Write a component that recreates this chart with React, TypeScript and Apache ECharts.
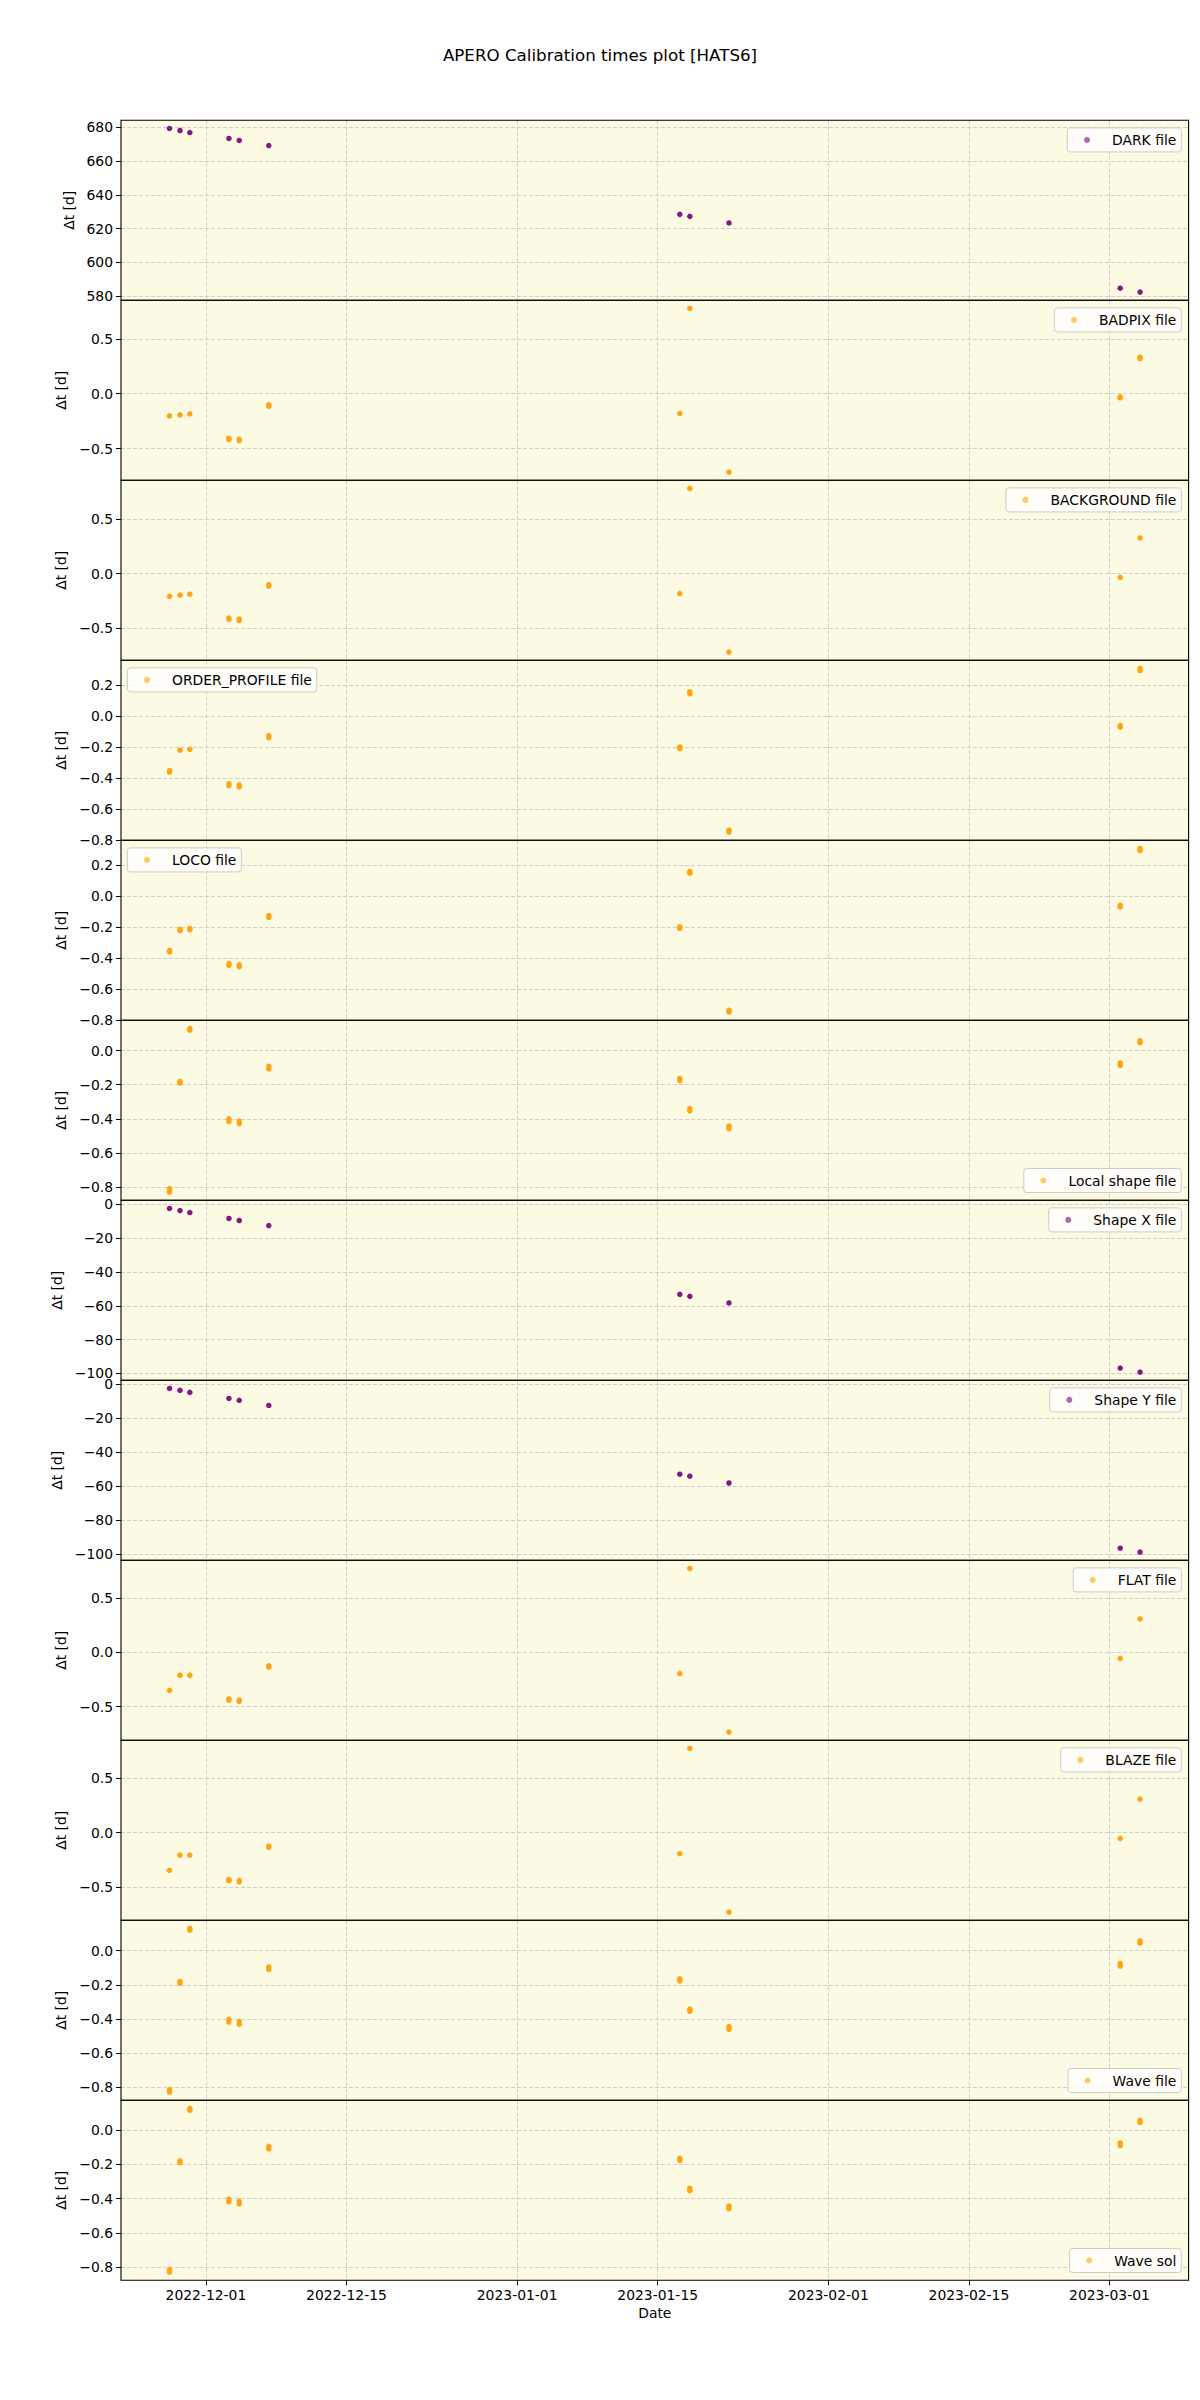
import React, { useEffect, useRef } from "react";
import * as echarts from "echarts";

// ---------------- data ----------------
const TITLE = "APERO Calibration times plot [HATS6]";
const Y_NAME = "Δt [d]";
const X_NAME = "Date";

// observation dates (UTC)
const obsDates = [
  "2022-11-27T09:00:00Z",
  "2022-11-28T10:00:00Z",
  "2022-11-29T09:30:00Z",
  "2022-12-03T07:00:00Z",
  "2022-12-04T07:40:00Z",
  "2022-12-07T06:15:00Z",
  "2023-01-17T04:50:00Z",
  "2023-01-18T04:50:00Z",
  "2023-01-22T02:25:00Z",
  "2023-03-02T01:40:00Z",
  "2023-03-04T01:10:00Z",
];

const xTickDates = [
  "2022-12-01",
  "2022-12-15",
  "2023-01-01",
  "2023-01-15",
  "2023-02-01",
  "2023-02-15",
  "2023-03-01",
];

const panelNames = [
  "DARK file",
  "BADPIX file",
  "BACKGROUND file",
  "ORDER_PROFILE file",
  "LOCO file",
  "Local shape file",
  "Shape X file",
  "Shape Y file",
  "FLAT file",
  "BLAZE file",
  "Wave file",
  "Wave sol",
];

type V = number | number[];

const darkValues: V[] = [679.4, 678.2, 677.0, 673.5, 672.3, 669.3, 628.5, 627.3, 623.4, 584.7, 582.4];
const badpixValues: V[] = [-0.202, -0.193, -0.184, [-0.405, -0.417], [-0.415, -0.427], [-0.1, -0.115], -0.18, 0.776, -0.714, [-0.028, -0.038], [0.32, 0.332]];
const backgroundValues: V[] = [-0.206, -0.196, -0.187, [-0.405, -0.418], [-0.413, -0.427], [-0.1, -0.113], -0.181, 0.778, -0.716, -0.033, 0.326];
const orderProfileValues: V[] = [[-0.35, -0.36], -0.219, -0.213, [-0.435, -0.447], [-0.443, -0.455], [-0.125, -0.138], [-0.198, -0.208], [0.145, 0.158], [-0.735, -0.747], [-0.06, -0.07], [0.295, 0.308]];
const locoValues: V[] = [[-0.35, -0.36], [-0.214, -0.222], [-0.209, -0.217], [-0.435, -0.447], [-0.443, -0.455], [-0.125, -0.138], [-0.198, -0.208], [0.147, 0.158], [-0.735, -0.747], [-0.06, -0.07], [0.293, 0.306]];
const localShapeValues: V[] = [[-0.81, -0.83], [-0.18, -0.19], [0.12, 0.13], [-0.4, -0.415], [-0.413, -0.428], [-0.092, -0.107], [-0.163, -0.176], [-0.34, -0.353], [-0.443, -0.458], [-0.072, -0.087], [0.047, 0.058]];
const shapeXValues: V[] = [-2.5, -3.7, -4.9, -8.4, -9.6, -12.6, -53.2, -54.4, -58.3, -96.8, -99.2];
const shapeYValues: V[] = [-2.4, -3.5, -4.7, -8.3, -9.4, -12.4, -53.0, -54.2, -58.2, -96.7, -99.0];
const flatValues: V[] = [-0.35, -0.211, -0.211, [-0.428, -0.44], [-0.44, -0.452], [-0.125, -0.137], -0.195, 0.771, -0.734, -0.056, 0.307];
const blazeValues: V[] = [-0.346, -0.206, -0.206, [-0.43, -0.442], [-0.44, -0.452], [-0.123, -0.135], -0.193, 0.776, -0.731, -0.052, 0.31];
const waveFileValues: V[] = [[-0.813, -0.828], [-0.18, -0.19], [0.12, 0.13], [-0.402, -0.418], [-0.415, -0.43], [-0.095, -0.11], [-0.165, -0.177], [-0.342, -0.355], [-0.445, -0.46], [-0.075, -0.09], [0.045, 0.057]];
const waveSolValues: V[] = [[-0.813, -0.828], [-0.18, -0.19], [0.115, 0.126], [-0.402, -0.418], [-0.415, -0.43], [-0.095, -0.11], [-0.165, -0.177], [-0.34, -0.353], [-0.443, -0.458], [-0.075, -0.09], [0.045, 0.057]];

const panelValues: V[][] = [
  darkValues,
  badpixValues,
  backgroundValues,
  orderProfileValues,
  locoValues,
  localShapeValues,
  shapeXValues,
  shapeYValues,
  flatValues,
  blazeValues,
  waveFileValues,
  waveSolValues,
];

// tick steps of each panel's y axis
const yTickSteps = [20, 0.5, 0.5, 0.2, 0.2, 0.2, 20, 20, 0.5, 0.5, 0.2, 0.2];

// ---------------- styles / layout ----------------
const FONT = "DejaVu Sans";
const PURPLE = "#841884";
const PURPLE_LEG = "#b366b3";
const ORANGE = "#ffa512";
const ORANGE_LEG = "#ffc966";
const panelKinds = ["p", "o", "o", "o", "o", "o", "p", "p", "o", "o", "o", "o"];
const legendPos = ["ur", "ur", "ur", "ul", "ul", "lr", "ur", "ur", "ur", "ur", "lr", "lr"];
const BG = "#fcfae2";
const GRID_C = "#cfcfcf";
const PANEL_TOP = 120.3;
const PANEL_H = 180;
const GRID_LEFT = 121;
const GRID_RIGHT = 11.4;
const CHART_W = 1200;
const TEXT_SIZE = 13.9;

function fmtY(v: number, dec: number) {
  let s = v.toFixed(dec);
  if (Number(s) === 0) s = (0).toFixed(dec);
  return s.replace("-", "\u2212");
}

function fmtDate(v: number) {
  const d = new Date(Math.round(v));
  const y = d.getUTCFullYear();
  const m = String(d.getUTCMonth() + 1).padStart(2, "0");
  const dd = String(d.getUTCDate()).padStart(2, "0");
  return `${y}-${m}-${dd}`;
}

function buildOption() {
  const ts = obsDates.map((d) => Date.parse(d));
  const tMin = Math.min(...ts);
  const tMax = Math.max(...ts);
  const tPad = (tMax - tMin) * 0.05;
  const xMin = tMin - tPad;
  const xMax = tMax + tPad;
  const xTicks = xTickDates.map((d) => Date.parse(d + "T00:00:00Z"));

  const grids: any[] = [];
  const xAxes: any[] = [];
  const yAxes: any[] = [];
  const series: any[] = [];
  const legends: any[] = [];
  const frames: any[] = [];
  const n = panelNames.length;
  const plotW = CHART_W - GRID_LEFT - GRID_RIGHT;

  panelNames.forEach((name, i) => {
    const top = PANEL_TOP + i * PANEL_H;
    const isLast = i === n - 1;
    const vals = panelValues[i];
    const flat: number[] = [];
    const data: [number, number][] = [];
    vals.forEach((v, k) => {
      const arr = Array.isArray(v) ? v : [v];
      arr.forEach((y) => {
        flat.push(y);
        data.push([ts[k], y]);
      });
    });
    const dMin = Math.min(...flat);
    const dMax = Math.max(...flat);
    const pad = (dMax - dMin) * 0.05;
    let yMin = dMin - pad;
    let yMax = dMax + pad;
    const step = yTickSteps[i];
    const dec = step >= 1 ? 0 : 1;
    const eps = step * 0.02;
    const yTicks: number[] = [];
    for (let k = Math.ceil((yMin - eps) / step); k * step <= yMax + eps; k++) {
      yTicks.push(Number((k * step).toFixed(6)));
    }
    yMin = Math.min(yMin, yTicks[0]);
    yMax = Math.max(yMax, yTicks[yTicks.length - 1]);

    const maxLabelLen = Math.max(...yTicks.map((t) => fmtY(t, dec).length));
    const nameGap = maxLabelLen >= 4 ? (dec === 0 ? 55 : 52) : 45;

    grids.push({
      left: GRID_LEFT,
      right: GRID_RIGHT,
      top,
      height: PANEL_H,
      show: true,
      backgroundColor: BG,
      borderWidth: 0,
      z: 0,
    });

    frames.push({
      type: "rect",
      shape: { x: GRID_LEFT, y: top, width: plotW, height: PANEL_H },
      style: { fill: "none", stroke: "#000", lineWidth: 1.1 },
      silent: true,
      z: 100,
    });

    xAxes.push({
      type: "value",
      gridIndex: i,
      min: xMin,
      max: xMax,
      position: "bottom",
      axisLine: { show: false, onZero: false },
      axisTick: {
        show: isLast,
        length: 5,
        customValues: xTicks,
        lineStyle: { color: "#000", width: 1 },
      },
      axisLabel: {
        show: isLast,
        customValues: xTicks,
        margin: 8,
        fontSize: TEXT_SIZE,
        fontFamily: FONT,
        color: "#000",
        formatter: (v: number) => fmtDate(v),
      },
      splitLine: {
        show: true,
        lineStyle: { color: GRID_C, type: [4, 2], width: 1 },
      },
      name: isLast ? X_NAME : "",
      nameLocation: "middle",
      nameGap: 26,
      nameTextStyle: { fontSize: TEXT_SIZE, fontFamily: FONT, color: "#000" },
    });

    yAxes.push({
      type: "value",
      gridIndex: i,
      min: yMin,
      max: yMax,
      axisLine: { show: false, onZero: false },
      axisTick: {
        show: true,
        length: 5,
        customValues: yTicks,
        lineStyle: { color: "#000", width: 1 },
      },
      axisLabel: {
        customValues: yTicks,
        margin: 8,
        fontSize: TEXT_SIZE,
        lineHeight: 10,
        fontFamily: FONT,
        color: "#000",
        showMinLabel: true,
        showMaxLabel: true,
        hideOverlap: false,
        formatter: (v: number) => fmtY(v, dec),
      },
      splitLine: {
        show: true,
        lineStyle: { color: GRID_C, type: [4, 2], width: 1 },
      },
      name: Y_NAME,
      nameLocation: "middle",
      nameGap,
      nameRotate: 90,
      nameTextStyle: { fontSize: TEXT_SIZE, fontFamily: FONT, color: "#000" },
    });

    const isP = panelKinds[i] === "p";
    series.push({
      type: "scatter",
      name,
      xAxisIndex: i,
      yAxisIndex: i,
      data,
      symbol: "circle",
      symbolSize: 5.5,
      itemStyle: { color: isP ? PURPLE : ORANGE, opacity: 1 },
      silent: true,
      z: 3,
    });

    const pos = legendPos[i];
    const legendH = 24.6;
    const posObj: any = {};
    if (pos === "ur") {
      posObj.right = CHART_W - 1181.3;
      posObj.top = top + 7.6;
    } else if (pos === "ul") {
      posObj.left = 127.4;
      posObj.top = top + 7.6;
    } else {
      posObj.right = CHART_W - 1181.3;
      posObj.top = top + PANEL_H - 7.2 - legendH;
    }
    legends.push({
      ...posObj,
      data: [{ name, itemStyle: { color: isP ? PURPLE_LEG : ORANGE_LEG } }],
      orient: "horizontal",
      selectedMode: false,
      backgroundColor: "rgba(255,255,255,0.8)",
      borderColor: "#cccccc",
      borderWidth: 1,
      borderRadius: 3,
      padding: [4, 5, 4, 16.6],
      itemWidth: 6,
      itemHeight: 6,
      icon: "circle",
      textStyle: {
        fontSize: TEXT_SIZE,
        fontFamily: FONT,
        color: "#000",
        lineHeight: 16,
        padding: [0, 0, 0, 17],
      },
      z: 10,
    });
  });

  return {
    animation: false,
    backgroundColor: "#ffffff",
    textStyle: { fontFamily: FONT },
    title: {
      text: TITLE,
      left: "center",
      top: 46,
      padding: 0,
      textStyle: { fontSize: 16.7, fontWeight: "normal", color: "#000", fontFamily: FONT },
    },
    grid: grids,
    xAxis: xAxes,
    yAxis: yAxes,
    legend: legends,
    graphic: { elements: frames },
    series,
  };
}

export default function App() {
  const ref = useRef<HTMLDivElement>(null);
  useEffect(() => {
    if (!ref.current) return;
    const chart = echarts.init(ref.current, undefined, { renderer: "svg" });
    chart.setOption(buildOption() as any);
    return () => {
      chart.dispose();
    };
  }, []);
  return (
    <div
      ref={ref}
      style={{ position: "absolute", left: 0, top: 0, width: 1200, height: 2400 }}
    />
  );
}
